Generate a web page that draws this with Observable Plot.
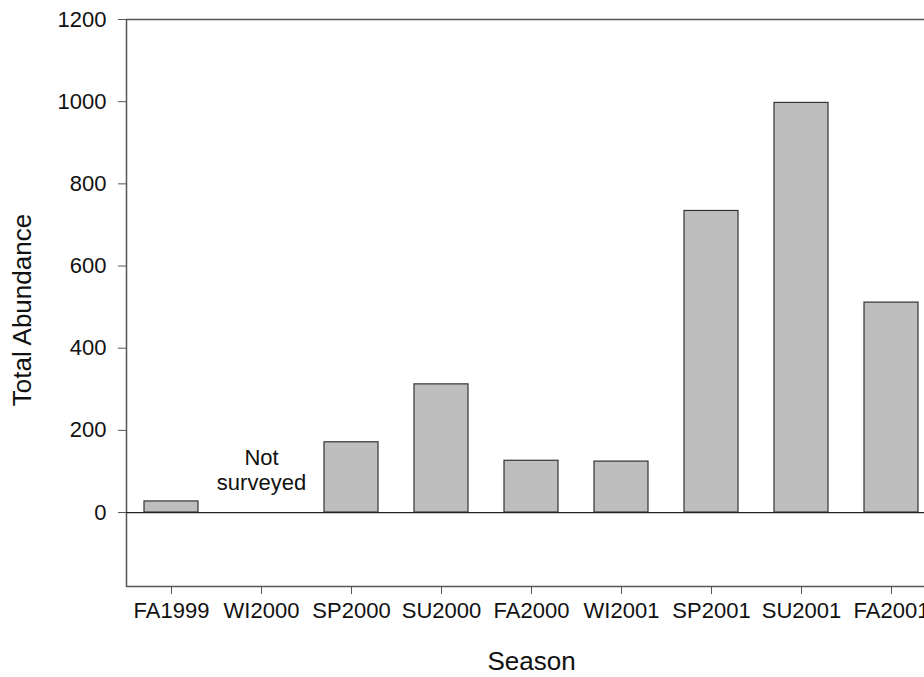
<!DOCTYPE html>
<html><head><meta charset="utf-8">
<script src="https://cdn.jsdelivr.net/npm/d3@7"></script>
<script src="https://cdn.jsdelivr.net/npm/@observablehq/plot@0.6"></script>
<style>
body{margin:0;background:#fff;overflow:hidden}
g[aria-label="x-axis label"] text, g[aria-label="y-axis label"] text{font-size:26px !important}
</style>
</head><body><div id="chart"></div>
<script>
const seasons = ["FA1999","WI2000","SP2000","SU2000","FA2000","WI2001","SP2001","SU2001","FA2001"];
const abundance = [27, null, 171, 312, 126, 124, 734, 997, 511];
const yTicks = [0, 200, 400, 600, 800, 1000, 1200];
const noteSeason = ["WI2000"];
const noteText = ["Not\nsurveyed"];
const noteY = [105];

const bars = seasons.map((s, i) => ({season: s, value: abundance[i]})).filter(d => d.value != null);
const notes = noteSeason.map((s, i) => ({season: s, text: noteText[i], y: noteY[i]}));

const chart = Plot.plot({
  width: 924, height: 677,
  marginLeft: 126, marginRight: -12, marginTop: 19, marginBottom: 91,
  style: {fontFamily: '"Liberation Sans", Arial, sans-serif', fontSize: "22px", color: "#111", background: "#fff", overflow: "hidden"},
  x: {domain: seasons, paddingInner: 0.4, paddingOuter: 0.2, axis: null},
  y: {domain: [-180, 1200], axis: null},
  marks: [
    Plot.frame({stroke: "#555", strokeWidth: 1.5}),
    Plot.barY(bars, {x: "season", y: "value", fill: "#bebebe", stroke: "#333", strokeWidth: 1.2}),
    Plot.ruleY([0], {stroke: "#222", strokeWidth: 1.3}),
    Plot.text(notes, {x: "season", y: "y", text: "text", lineHeight: 1.16, fill: "#111"}),
    Plot.axisY({ticks: yTicks, tickFormat: d => String(d), tickSize: 8, tickPadding: 12, stroke: "#555", label: "Total Abundance", labelAnchor: "center", labelOffset: 114, labelArrow: "none"}),
    Plot.axisX({tickSize: 8, tickPadding: 8, stroke: "#555", label: "Season", labelAnchor: "center", labelOffset: 83, labelArrow: "none"})
  ]
});
document.getElementById("chart").appendChild(chart);
chart.querySelectorAll("text").forEach(t => {
  if (t.textContent === "Season") t.style.fontSize = "26px";
  if (t.textContent === "Total Abundance") { t.style.fontSize = "26px"; t.setAttribute("dx", "-7"); }
});
</script>
</body></html>
